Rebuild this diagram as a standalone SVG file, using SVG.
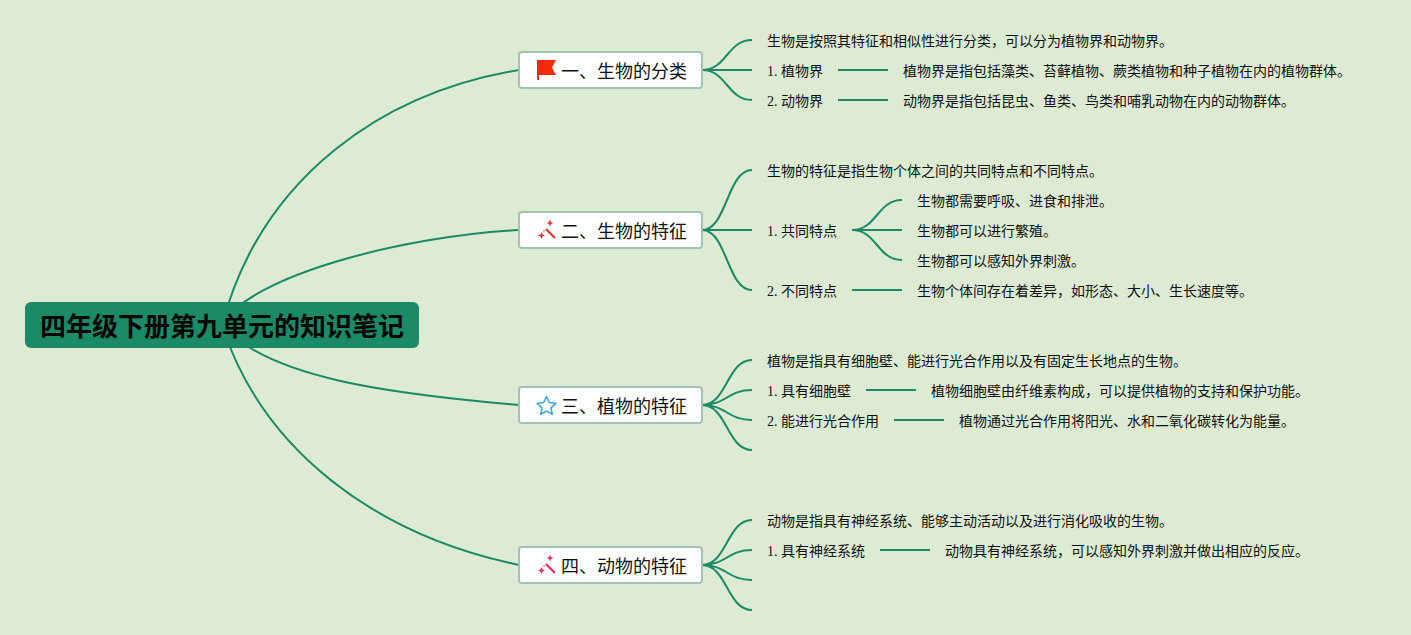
<svg xmlns="http://www.w3.org/2000/svg" width="1411" height="635" viewBox="0 0 1411 635">
<style>
.c{fill:none;stroke:#1b8a66;stroke-width:2}
.t{fill:#fff;stroke:#9fc4b3;stroke-width:2}
.tt{font:18px "Liberation Serif","Noto Sans CJK SC",serif;fill:#111}
.l{font:14px "Liberation Serif","Noto Sans CJK SC",serif;fill:#111}
.r{font:bold 26px "Liberation Serif","Noto Sans CJK SC",serif;fill:#050505;text-anchor:middle}
</style>
<defs>
<g id="wand"><path d="M-1 -1L8 8" fill="none" stroke-width="2.200" stroke="currentColor"/><path d="M3 -10.500l1 2.500 2.500 1-2.500 1-1 2.500-1-2.500-2.500-1 2.500-1zM-5.500 2l1.100 2.400 2.400 1.100-2.400 1.100-1.100 2.400-1.100-2.400-2.400-1.100 2.400-1.100z" fill="currentColor"/><circle cx="-3" cy="1" r=".8" fill="currentColor"/></g>
</defs>
<rect width="1411" height="635" fill="#dcebd2"/>
<g id="connectors">
<path class="c" d="M222 325C262 175 385 92 519 70"/>
<path class="c" d="M222 325C250 275 405 236 519 230"/>
<path class="c" d="M222 325C268 378 390 394 519 405"/>
<path class="c" d="M222 325C262 450 375 535 519 565"/>
<path class="c" d="M702 70C727 70 727 40 752 40M702 70H752M702 70C727 70 727 100 752 100M838 70H888M838 100H888"/>
<path class="c" d="M702 230C727 230 727 170 752 170M702 230H752M702 230C727 230 727 290 752 290"/>
<path class="c" d="M852 230C877 230 877 200 902 200M852 230H902M852 230C877 230 877 260 902 260M852 290H902"/>
<path class="c" d="M702 405C727 405 727 360 752 360M702 405C727 405 727 390 752 390M702 405C727 405 727 420 752 420M702 405C727 405 727 450 752 450M866 390H916M894 420H944"/>
<path class="c" d="M702 565C727 565 727 520 752 520M702 565C727 565 727 550 752 550M702 565C727 565 727 580 752 580M702 565C727 565 727 610 752 610M880 550H930"/>
</g>
<g id="root"><rect x="25" y="302" width="394" height="46" rx="6" fill="#1b8a66"/><text class="r" x="222" y="336">四年级下册第九单元的知识笔记</text></g>
<g id="topic1"><rect class="t" x="519" y="52" width="183" height="36" rx="3"/>
<path d="M537 60H556L552 67.500L556 75H539V80H537Z" fill="#f12a0c"/>
<text class="tt" x="561" y="77.500">一、生物的分类</text></g>
<g id="topic2"><rect class="t" x="519" y="212" width="183" height="36" rx="3"/>
<use href="#wand" x="547" y="230" color="#d8392c"/>
<text class="tt" x="561" y="237.500">二、生物的特征</text></g>
<g id="topic3"><rect class="t" x="519" y="387" width="183" height="36" rx="3"/>
<path d="M546.500 396.500l2.800 6 6.500 .8-4.800 4.500 1.300 6.500-5.800-3.200-5.800 3.200 1.300-6.500-4.800-4.500 6.500-.8z" fill="#fff" stroke="#3ba6e0" stroke-width="1.600" stroke-linejoin="round"/>
<text class="tt" x="561" y="412.500">三、植物的特征</text></g>
<g id="topic4"><rect class="t" x="519" y="547" width="183" height="36" rx="3"/>
<use href="#wand" x="547" y="565" color="#ea2a6e"/>
<text class="tt" x="561" y="572.500">四、动物的特征</text></g>
<g id="leaves1">
<text class="l" x="767" y="46">生物是按照其特征和相似性进行分类，可以分为植物界和动物界。</text>
<text class="l" x="767" y="76">1. 植物界</text>
<text class="l" x="903" y="76">植物界是指包括藻类、苔藓植物、蕨类植物和种子植物在内的植物群体。</text>
<text class="l" x="767" y="106">2. 动物界</text>
<text class="l" x="903" y="106">动物界是指包括昆虫、鱼类、鸟类和哺乳动物在内的动物群体。</text>
</g>
<g id="leaves2">
<text class="l" x="767" y="176">生物的特征是指生物个体之间的共同特点和不同特点。</text>
<text class="l" x="767" y="236">1. 共同特点</text>
<text class="l" x="917" y="206">生物都需要呼吸、进食和排泄。</text>
<text class="l" x="917" y="236">生物都可以进行繁殖。</text>
<text class="l" x="917" y="266">生物都可以感知外界刺激。</text>
<text class="l" x="767" y="296">2. 不同特点</text>
<text class="l" x="917" y="296">生物个体间存在着差异，如形态、大小、生长速度等。</text>
</g>
<g id="leaves3">
<text class="l" x="767" y="366">植物是指具有细胞壁、能进行光合作用以及有固定生长地点的生物。</text>
<text class="l" x="767" y="396">1. 具有细胞壁</text>
<text class="l" x="931" y="396">植物细胞壁由纤维素构成，可以提供植物的支持和保护功能。</text>
<text class="l" x="767" y="426">2. 能进行光合作用</text>
<text class="l" x="959" y="426">植物通过光合作用将阳光、水和二氧化碳转化为能量。</text>
</g>
<g id="leaves4">
<text class="l" x="767" y="526">动物是指具有神经系统、能够主动活动以及进行消化吸收的生物。</text>
<text class="l" x="767" y="556">1. 具有神经系统</text>
<text class="l" x="945" y="556">动物具有神经系统，可以感知外界刺激并做出相应的反应。</text>
</g>
</svg>
